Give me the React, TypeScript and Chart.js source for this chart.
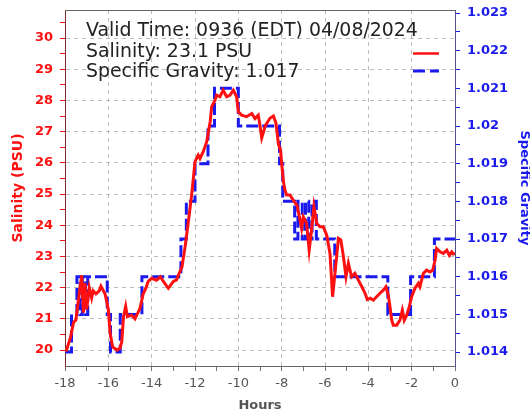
import { useEffect, useRef } from 'react';
import { Chart, registerables } from 'chart.js';

Chart.register(...registerables);

// Salinity (PSU) trace, hours relative to valid time
const hours = [
  -17.95, -17.75, -17.6, -17.5, -17.4, -17.23, -17.15, -17.08, -17.0, -16.88,
  -16.77, -16.7, -16.57, -16.42, -16.34, -16.15, -16.0, -15.92, -15.8, -15.6,
  -15.46, -15.38, -15.3, -15.2, -15.12, -14.92, -14.77, -14.54, -14.39, -14.26,
  -14.16, -14.0, -13.77, -13.6, -13.46, -13.23, -13.0, -12.85, -12.77, -12.6,
  -12.46, -12.3, -12.15, -12.0, -11.85, -11.77, -11.62, -11.46, -11.3, -11.23,
  -11.08, -11.0, -10.85, -10.7, -10.54, -10.38, -10.23, -10.08, -10.0, -9.85,
  -9.62, -9.38, -9.23, -9.08, -9.0, -8.92, -8.75, -8.54, -8.38, -8.26,
  -8.15, -8.05, -8.0, -7.92, -7.85, -7.77, -7.62, -7.46, -7.3, -7.15,
  -7.08, -7.0, -6.85, -6.73, -6.62, -6.51, -6.38, -6.23, -6.08, -5.92,
  -5.77, -5.65, -5.54, -5.38, -5.27, -5.15, -5.03, -4.92, -4.77, -4.62,
  -4.46, -4.3, -4.15, -4.05, -3.92, -3.77, -3.62, -3.46, -3.31, -3.19,
  -3.08, -3.0, -2.92, -2.85, -2.69, -2.54, -2.43, -2.34, -2.23, -2.11,
  -2.0, -1.85, -1.69, -1.62, -1.46, -1.31, -1.15, -1.03, -0.92, -0.85,
  -0.69, -0.54, -0.38, -0.26, -0.15, -0.08, 0,
];
const salinity = [
  19.95, 20.4, 20.9, 20.96, 21.5, 22.4, 21.2, 22.15, 21.3, 22.0,
  21.67, 21.9, 21.8, 21.9, 22.05, 21.8, 21.3, 20.55, 20.1, 20.0,
  20.06, 20.27, 21.07, 21.4, 21.07, 21.12, 21.0, 21.34, 21.8, 22.0,
  22.2, 22.3, 22.24, 22.35, 22.2, 21.98, 22.2, 22.25, 22.4, 22.67,
  23.3, 24.15, 25.0, 26.04, 26.25, 26.14, 26.36, 26.68, 27.32, 27.8,
  28.0, 28.17, 28.12, 28.33, 28.12, 28.17, 28.33, 28.12, 27.64, 27.53,
  27.48, 27.58, 27.42, 27.53, 27.2, 26.8, 27.2, 27.43, 27.5, 27.27,
  26.6, 26.4, 25.98, 25.4, 25.13, 24.97, 24.97, 24.8, 24.65, 24.17,
  23.9, 24.27, 24.06, 23.2, 23.85, 24.6, 24.06, 23.95, 23.95, 23.68,
  23.1, 21.71, 22.46, 23.58, 23.53, 23.0, 22.35, 22.78, 22.35, 22.46,
  22.24, 22.03, 21.82, 21.62, 21.66, 21.6, 21.71, 21.82, 21.92, 22.03,
  21.76, 21.39, 20.96, 20.8, 20.8, 20.96, 21.28, 20.96, 21.12, 21.39,
  21.71, 21.98, 22.14, 22.03, 22.46, 22.56, 22.5, 22.56, 22.88, 23.26,
  23.15, 23.1, 23.2, 23.04, 23.15, 23.08, 23.1,
];

// Specific gravity step trace (value holds from each hour to the next)
const sgHours = [
  -18.0, -17.7, -17.45, -17.3, -17.2, -17.05, -16.95, -16.05, -15.9, -15.45,
  -14.45, -12.65, -12.4, -12.0, -11.4, -11.1, -10.0, -8.1, -7.95, -7.4,
  -7.25, -7.05, -6.9, -6.75, -6.6, -6.4, -5.55, -3.1, -2.05, -0.95, 0,
];
const specificGravity = [
  1.014, 1.015, 1.016, 1.015, 1.016, 1.015, 1.016, 1.015, 1.014, 1.015,
  1.016, 1.017, 1.018, 1.019, 1.020, 1.021, 1.020, 1.019, 1.018, 1.017,
  1.018, 1.017, 1.018, 1.017, 1.018, 1.017, 1.016, 1.015, 1.016, 1.017, 1.017,
];

const xTickValues = [-18, -17, -16, -15, -14, -13, -12, -11, -10, -9, -8, -7, -6, -5, -4, -3, -2, -1, 0];
const salinityTickValues = [20, 20.5, 21, 21.5, 22, 22.5, 23, 23.5, 24, 24.5, 25, 25.5, 26, 26.5, 27, 27.5, 28, 28.5, 29, 29.5, 30, 30.5];
const sgTickValues = [1014, 1014.5, 1015, 1015.5, 1016, 1016.5, 1017, 1017.5, 1018, 1018.5, 1019, 1019.5, 1020, 1020.5, 1021, 1021.5, 1022, 1022.5, 1023];

const headerLines = [
  'Valid Time: 0936 (EDT) 04/08/2024',
  'Salinity: 23.1 PSU',
  'Specific Gravity: 1.017',
];

const FONT = '"DejaVu Sans", Verdana, sans-serif';
const RED = '#ff1010';
const BLUE = '#1a1aee';
const GRID = '#bdbdbd';

const noPad = (s: any) => {
  s.paddingTop = 0;
  s.paddingBottom = 0;
  s.paddingLeft = 0;
  s.paddingRight = 0;
};

export default function App() {
  const ref = useRef<HTMLCanvasElement | null>(null);

  useEffect(() => {
    const canvas = ref.current;
    if (!canvas) return;

    const overlay = {
      id: 'overlay',
      beforeDatasetsDraw(chart: any) {
        const { ctx, chartArea } = chart;
        ctx.save();
        ctx.strokeStyle = '#666';
        ctx.lineWidth = 1;
        ctx.beginPath();
        ctx.moveTo(chartArea.left, chartArea.top + 0.5);
        ctx.lineTo(chartArea.right, chartArea.top + 0.5);
        ctx.stroke();
        ctx.restore();
      },
      afterDraw(chart: any) {
        const { ctx } = chart;
        ctx.save();
        ctx.font = `18.9px ${FONT}`;
        ctx.fillStyle = '#222';
        ctx.textBaseline = 'alphabetic';
        ctx.textAlign = 'left';
        const ys = [36, 56.5, 77];
        headerLines.forEach((t, i) => ctx.fillText(t, 86, ys[i]));
        // legend samples
        ctx.strokeStyle = RED;
        ctx.lineWidth = 2.5;
        ctx.beginPath();
        ctx.moveTo(413, 53.5);
        ctx.lineTo(439, 53.5);
        ctx.stroke();
        ctx.strokeStyle = BLUE;
        ctx.lineWidth = 3;
        ctx.setLineDash([12, 5]);
        ctx.beginPath();
        ctx.moveTo(413, 71);
        ctx.lineTo(439, 71);
        ctx.stroke();
        ctx.restore();
      },
    };

    const chart = new Chart(canvas, {
      type: 'line',
      data: {
        datasets: [
          {
            label: 'Salinity',
            data: hours.map((h, i) => ({ x: h, y: salinity[i] })),
            borderColor: RED,
            borderWidth: 3,
            pointRadius: 0,
            tension: 0,
            yAxisID: 'y',
          },
          {
            label: 'Specific Gravity',
            data: sgHours.map((h, i) => ({ x: h, y: specificGravity[i] })),
            borderColor: BLUE,
            borderWidth: 3,
            borderDash: [12, 4],
            pointRadius: 0,
            stepped: 'before',
            yAxisID: 'y2',
          },
        ],
      },
      options: {
        responsive: false,
        animation: false,
        devicePixelRatio: 1,
        layout: { padding: { top: 10, left: 0, right: 0, bottom: 0 } },
        plugins: { legend: { display: false }, tooltip: { enabled: false } },
        scales: {
          x: {
            type: 'linear',
            position: 'bottom',
            min: -18,
            max: 0,
            afterBuildTicks: (s: any) => { s.ticks = xTickValues.map((v) => ({ value: v })); },
            afterFit: (s: any) => { s.height = 48; noPad(s); },
            ticks: {
              autoSkip: false,
              maxRotation: 0,
              padding: 5,
              color: '#555',
              font: { family: FONT, size: 13 },
              callback: (v: any) => (Math.round(v) % 2 === 0 ? String(v) : ''),
            },
            grid: {
              color: (c: any) => {
                const v = c.tick ? c.tick.value : 1;
                return v % 2 === 0 && v !== -18 && v !== 0 ? GRID : 'rgba(0,0,0,0)';
              },
              tickColor: '#777',
              tickLength: 5,
              tickBorderDash: [],
              lineWidth: 1,
            },
            border: { display: true, color: '#666', width: 1, dash: [4, 4] },
            title: {
              display: true,
              text: 'Hours',
              color: '#555',
              font: { family: FONT, size: 13, weight: 'bold' },
              padding: { top: 0, bottom: 1 },
            },
          },
          y: {
            type: 'linear',
            position: 'left',
            min: 19.49,
            max: 30.9,
            afterBuildTicks: (s: any) => { s.ticks = salinityTickValues.map((v) => ({ value: v })); },
            afterFit: (s: any) => { s.width = 65; noPad(s); },
            ticks: {
              autoSkip: false,
              padding: 7,
              color: RED,
              font: { family: FONT, size: 13, weight: 'bold' },
              callback: (v: any) => (Number.isInteger(v) ? String(v) : ''),
            },
            grid: {
              color: (c: any) => {
                const v = c.tick ? c.tick.value : 0.5;
                return Number.isInteger(v) ? GRID : 'rgba(0,0,0,0)';
              },
              tickColor: RED,
              tickLength: 5,
              tickBorderDash: [],
            },
            border: { display: true, color: '#7a2a2a', width: 1, dash: [4, 4] },
            title: {
              display: true,
              text: 'Salinity (PSU)',
              color: RED,
              font: { family: FONT, size: 14, weight: 'bold' },
              padding: { top: 10, bottom: 0 },
            },
          },
          y2: {
            type: 'linear',
            position: 'right',
            min: 1.01363,
            max: 1.02308,
            afterBuildTicks: (s: any) => { s.ticks = sgTickValues.map((v) => ({ value: v / 1000 })); },
            afterFit: (s: any) => { s.width = 75; noPad(s); },
            ticks: {
              autoSkip: false,
              padding: 7,
              color: BLUE,
              font: { family: FONT, size: 13, weight: 'bold' },
              callback: (v: any) => {
                const m = Math.round(v * 2000);
                return m % 2 === 0 ? String(Number((m / 2000).toFixed(3))) : '';
              },
            },
            grid: {
              drawOnChartArea: false,
              tickColor: BLUE,
              tickLength: 5,
              tickBorderDash: [],
            },
            border: { display: true, color: '#50508a', width: 1 },
            title: {
              display: true,
              text: 'Specific Gravity',
              color: BLUE,
              font: { family: FONT, size: 13, weight: 'bold', lineHeight: 1 },
              padding: { top: -1, bottom: 0 },
            },
          },
        },
      },
      plugins: [overlay],
    } as any);

    return () => chart.destroy();
  }, []);

  return (
    <div style={{ position: 'fixed', left: 0, top: 0, width: 530, height: 414, background: '#fff' }}>
      <canvas ref={ref} width={530} height={414} style={{ width: 530, height: 414, display: 'block' }} />
    </div>
  );
}
